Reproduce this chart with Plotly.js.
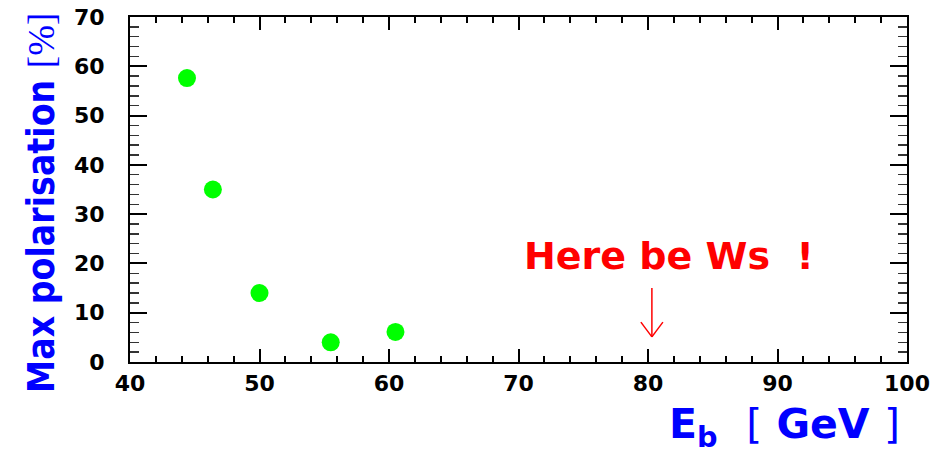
<!DOCTYPE html>
<html>
<head>
<meta charset="utf-8">
<script src="https://cdn.plot.ly/plotly-3.0.1.min.js"></script>
<style>html,body{margin:0;padding:0;background:#fff;}</style>
</head>
<body>
<div id="chart" style="width:931px;height:449px;"></div>
<script>
// Data
const beamEnergy = [44.4, 46.4, 50.0, 55.5, 60.5];      // E_b [GeV]
const maxPolarisation = [57.6, 35.0, 14.0, 4.0, 6.1];   // [%]
const xTickVals = [40, 50, 60, 70, 80, 90, 100];
const yTickVals = [0, 10, 20, 30, 40, 50, 60, 70];
const noteText = "Here be Ws&nbsp; !";
const noteX = 81.6;
const noteY = 21.6;
const arrowX = 80.3;
const arrowTop = 15.0;
const arrowBottom = 5.1;
const headHalfWidth = 0.85;
const headHeight = 3.0;
const xTitle = "E<sub>b</sub>&nbsp; <span style='font-weight:normal'>[</span> GeV <span style='font-weight:normal'>]</span>";
const yTitle = "Max polarisation <span style='font-family:Liberation Serif;font-weight:normal'>[%]</span>";

const trace = {
  x: beamEnergy,
  y: maxPolarisation,
  type: 'scatter',
  mode: 'markers',
  marker: {color: '#00ff00', size: 18, line: {width: 0}},
  hoverinfo: 'x+y'
};

const axisCommon = {
  showline: true, linewidth: 2, linecolor: '#000', mirror: 'ticks',
  ticks: 'inside', tickwidth: 2, tickcolor: '#000',
  showgrid: false, zeroline: false,
  tickfont: {family: 'DejaVu Sans', size: 22, color: '#000', weight: 'bold'},
  tickmode: 'array'
};

const layout = {
  width: 931, height: 449,
  margin: {l: 130, r: 24, t: 17, b: 87, pad: 0},
  paper_bgcolor: '#fff', plot_bgcolor: '#fff',
  showlegend: false,
  xaxis: Object.assign({}, axisCommon, {
    range: [40, 100], tickvals: xTickVals, ticklen: 13,
    minor: {dtick: 2, ticks: 'inside', ticklen: 6, tickwidth: 2, tickcolor: '#000', showgrid: false},
    ticklabelstandoff: 1
  }),
  yaxis: Object.assign({}, axisCommon, {
    range: [0, 70], tickvals: yTickVals, ticklen: 17,
    minor: {dtick: 2, ticks: 'inside', ticklen: 9, tickwidth: 1.5, tickcolor: '#333', showgrid: false},
    ticklabelstandoff: 19
  }),
  shapes: [
    {type: 'line', xref: 'x', yref: 'y', x0: arrowX, x1: arrowX, y0: arrowTop, y1: arrowBottom,
     line: {color: '#ff0000', width: 1.5}},
    {type: 'line', xref: 'x', yref: 'y', x0: arrowX - headHalfWidth, x1: arrowX, y0: arrowBottom + headHeight, y1: arrowBottom,
     line: {color: '#ff0000', width: 1.5}},
    {type: 'line', xref: 'x', yref: 'y', x0: arrowX + headHalfWidth, x1: arrowX, y0: arrowBottom + headHeight, y1: arrowBottom,
     line: {color: '#ff0000', width: 1.5}}
  ],
  annotations: [
    {text: noteText, x: noteX, y: noteY, xref: 'x', yref: 'y', showarrow: false,
     xanchor: 'center', yanchor: 'middle',
     font: {family: 'DejaVu Sans', size: 38, color: '#ff0000', weight: 'bold'}},
    {text: xTitle, xref: 'paper', yref: 'paper', x: 0.9936, y: -0.188, showarrow: false,
     xanchor: 'right', yanchor: 'middle',
     font: {family: 'DejaVu Sans', size: 41, color: '#0000ff', weight: 'bold'}},
    {text: yTitle, xref: 'paper', yref: 'paper', x: -0.1133, y: 0.461, showarrow: false,
     textangle: -90, xanchor: 'center', yanchor: 'middle',
     font: {family: 'DejaVu Sans Condensed, DejaVu Sans', size: 37, color: '#0000ff', weight: 'bold'}}
  ]
};

Plotly.newPlot('chart', [trace], layout, {displayModeBar: false, staticPlot: true});
</script>
</body>
</html>
